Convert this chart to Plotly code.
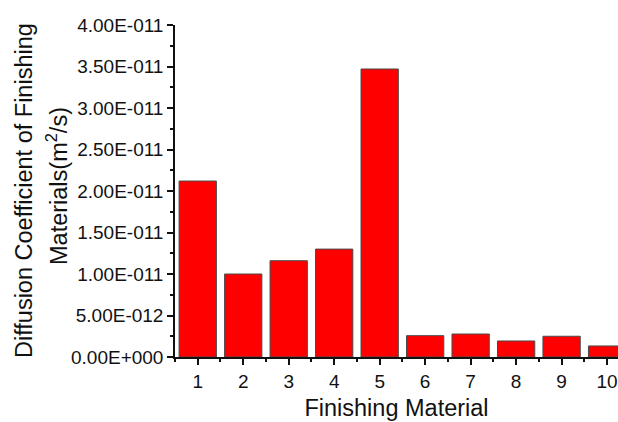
import plotly.graph_objects as go

# Data
materials = [1, 2, 3, 4, 5, 6, 7, 8, 9, 10]
diffusion = [21.2e-12, 10.0e-12, 11.6e-12, 13.0e-12, 34.7e-12,
             2.57e-12, 2.77e-12, 1.93e-12, 2.5e-12, 1.33e-12]
y_tickvals = [0, 5e-12, 10e-12, 15e-12, 20e-12, 25e-12, 30e-12, 35e-12, 40e-12]
y_ticktext = ["0.00E+000", "5.00E-012", "1.00E-011", "1.50E-011", "2.00E-011",
              "2.50E-011", "3.00E-011", "3.50E-011", "4.00E-011"]
x_title = "Finishing Material"
y_title_1 = "Diffusion Coefficient of Finishing"
y_title_2 = "Materials(m<sup>2</sup>/s)"

FONT = "Arial, 'Liberation Sans', sans-serif"
INK = "#111111"

fig = go.Figure()
fig.add_trace(go.Bar(
    x=materials, y=diffusion, width=0.82,
    marker=dict(color="#ff0000", line=dict(color="#4a4a4a", width=1)),
))

fig.update_layout(
    width=618, height=422,
    margin=dict(l=175, r=0, t=25, b=65),
    paper_bgcolor="white", plot_bgcolor="white",
    showlegend=False,
    font=dict(family=FONT, color=INK),
    xaxis=dict(
        range=[0.5, 10.24],
        tickvals=materials,
        ticktext=[str(m) for m in materials],
        tickfont=dict(size=19, family=FONT, color=INK),
        ticks="outside", ticklen=6, tickwidth=1.5, tickcolor=INK,
        showline=True, linecolor=INK, linewidth=1.5,
        showgrid=False, zeroline=False, automargin=False,
        minor=dict(ticks="outside", ticklen=3, tick0=0.5, dtick=1,
                   tickcolor=INK, tickwidth=1.5, showgrid=False),
        title=dict(text=x_title, font=dict(size=23.5, family=FONT, color=INK),
                   standoff=9),
    ),
    yaxis=dict(
        range=[0, 40e-12],
        tickvals=y_tickvals,
        ticktext=y_ticktext,
        tickfont=dict(size=19, family=FONT, color=INK),
        ticks="outside", ticklen=6, tickwidth=1.5, tickcolor=INK,
        showline=True, linecolor=INK, linewidth=1.5,
        showgrid=False, zeroline=False, automargin=False,
        minor=dict(ticks="outside", ticklen=3, tick0=0, dtick=2.5e-12,
                   tickcolor=INK, tickwidth=1.5, showgrid=False),
    ),
    annotations=[
        dict(text=y_title_1, textangle=-90, xref="paper", yref="paper",
             x=(24 - 175) / 443, y=0.50, xanchor="center", yanchor="middle",
             showarrow=False, font=dict(size=23.5, family=FONT, color=INK)),
        dict(text=y_title_2, textangle=-90, xref="paper", yref="paper",
             x=(57 - 175) / 443, y=0.515, xanchor="center", yanchor="middle",
             showarrow=False, font=dict(size=23.5, family=FONT, color=INK)),
    ],
)

fig.write_html("out.html")
